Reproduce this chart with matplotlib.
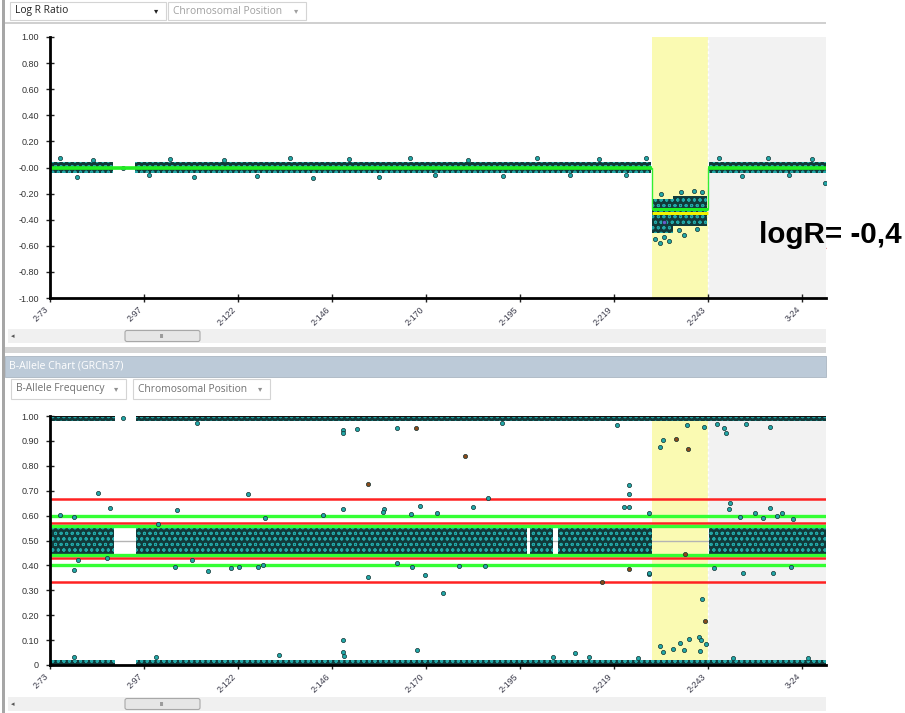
import numpy as np
import matplotlib.pyplot as plt
from matplotlib.patches import Rectangle, FancyBboxPatch

plt.rcParams['font.family'] = ['Liberation Sans', 'DejaVu Sans']
plt.rcParams['hatch.linewidth'] = 0.7

# x axis: chromosome 2 / 3 positions in Mb on one continuous axis
tick_pos = [73.0, 97.3, 121.6, 145.9, 170.2, 194.5, 218.8, 243.1, 267.4]
tick_labels = ['2-73', '2-97', '2-122', '2-146', '2-170', '2-195', '2-219', '2-243', '3-24']
x_min, x_max = 73.0, 273.6
del_start, del_end = 228.5, 243.1
chr3_start = 243.1

# ---- Log R ratio ----
lrr_ticks = [1.0, 0.8, 0.6, 0.4, 0.2, 0.0, -0.2, -0.4, -0.6, -0.8, -1.0]
lrr_ticklabels = ['1.00', '0.80', '0.60', '0.40', '0.20', '-0.00', '-0.20', '-0.40', '-0.60', '-0.80', '-1.00']
# dense clouds of points: start, end, low, high
lrr_cloud_start = [73.0, 95.0, 228.6, 234.0, 243.3]
lrr_cloud_end = [89.3, 228.3, 234.0, 242.9, 273.6]
lrr_cloud_low = [-0.045, -0.045, -0.50, -0.45, -0.045]
lrr_cloud_high = [0.045, 0.045, -0.24, -0.22, 0.045]
# single points outside the clouds
lrr_x = [75.5, 80.0, 84.2, 91.9, 98.5, 104.0, 110.3, 118.0, 126.5, 135.0, 141.0, 150.2,
         158.0, 166.0, 172.5, 181.0, 190.0, 199.0, 207.5, 215.0, 222.0, 227.0,
         229.5, 230.8, 231.6, 233.0, 235.5, 237.0, 239.5, 241.5, 231.0, 236.2, 240.2,
         246.0, 252.0, 258.5, 264.0, 270.0, 273.4]
lrr_y = [0.07, -0.07, 0.06, 0.0, -0.06, 0.065, -0.07, 0.06, -0.065, 0.07, -0.08, 0.065,
         -0.07, 0.07, -0.06, 0.06, -0.065, 0.07, -0.06, 0.065, -0.06, 0.07,
         -0.55, -0.58, -0.53, -0.56, -0.48, -0.52, -0.18, -0.19, -0.20, -0.19, -0.47,
         0.07, -0.065, 0.07, -0.06, 0.065, -0.12]
# segmentation lines
seg_x = [73.0, 228.5, 228.5, 243.1, 243.1, 273.6]
seg_y = [0.0, 0.0, -0.32, -0.32, 0.0, 0.0]
seg_mean_del = -0.35

# ---- B-allele frequency ----
baf_ticks = [1.0, 0.9, 0.8, 0.7, 0.6, 0.5, 0.4, 0.3, 0.2, 0.1, 0.0]
baf_ticklabels = ['1.00', '0.90', '0.80', '0.70', '0.60', '0.50', '0.40', '0.30', '0.20', '0.10', '0']
het_start = [73.0, 95.2, 197.1, 204.3, 243.4]
het_end = [89.5, 196.3, 203.0, 228.6, 273.6]
het_low = 0.438
het_high = 0.562
hom_start = [73.0, 95.2]
hom_end = [89.8, 273.6]
hom_width = 0.022
red_lines = [0.667, 0.57, 0.43, 0.333]
green_lines = [0.60, 0.56, 0.44, 0.40]

baf_x = [85.5, 88.5, 79.3, 105.8, 113.8, 105.3, 119.7, 121.9, 124.3, 110.9, 100.3, 91.9, 79.3,
         148.8, 148.8, 152.4, 162.6, 155.1, 169.9, 174.5, 148.8, 148.8, 149.0, 132.3, 167.8,
         148.8, 168.6, 159.3, 159.0, 128.6, 166.3, 173.0, 143.6, 126.8, 128.1, 166.7, 162.6,
         186.3, 182.4, 222.8, 222.8, 221.5, 222.8, 227.8, 178.7, 185.4, 189.8, 219.5, 208.7,
         212.4, 202.9, 230.7, 231.5, 237.7, 242.1, 245.3, 247.2, 247.7, 252.8, 259.1, 241.5,
         230.7, 235.9, 238.3, 240.8, 241.3, 242.6, 234.1, 237.0, 241.0, 231.5,
         248.8, 248.5, 255.2, 259.1, 262.1, 251.4, 257.4, 260.9, 265.0, 244.6, 252.2, 259.8,
         264.5, 227.9, 227.9, 249.6, 269.0, 225.1, 100.8, 109.6, 80.3, 87.7, 75.6, 79.2]
baf_y = [0.692, 0.629, 0.381, 0.622, 0.379, 0.392, 0.39, 0.392, 0.687, 0.97, 0.033, 0.99, 0.031,
         0.944, 0.93, 0.948, 0.95, 0.355, 0.361, 0.29, 0.10, 0.053, 0.037, 0.04, 0.06,
         0.625, 0.639, 0.625, 0.616, 0.589, 0.605, 0.612, 0.602, 0.392, 0.40, 0.392, 0.408,
         0.669, 0.633, 0.723, 0.687, 0.633, 0.633, 0.365, 0.399, 0.399, 0.97, 0.964, 0.047,
         0.033, 0.031, 0.877, 0.904, 0.964, 0.955, 0.967, 0.953, 0.933, 0.968, 0.955, 0.265,
         0.076, 0.09, 0.103, 0.111, 0.10, 0.084, 0.063, 0.06, 0.057, 0.053,
         0.652, 0.625, 0.612, 0.629, 0.609, 0.596, 0.589, 0.598, 0.585, 0.388, 0.371, 0.371,
         0.395, 0.368, 0.612, 0.03, 0.03, 0.03, 0.566, 0.42, 0.42, 0.428, 0.602, 0.596]
brown_x = [155.1, 167.6, 180.3, 215.6, 222.8, 234.8, 237.8, 237.1, 242.3]
brown_y = [0.727, 0.95, 0.839, 0.335, 0.384, 0.908, 0.867, 0.444, 0.178]

teal = '#22a8a8'
dark = '#0e2f2f'

fig = plt.figure(figsize=(9.05, 7.13), dpi=100)

# window chrome drawn in pixel space
ui = fig.add_axes([0, 0, 1, 1])
ui.set_xlim(0, 905)
ui.set_ylim(713, 0)
ui.axis('off')


def dropdown(x0, x1, y0, y1, label, col, arrow_col):
    ui.add_patch(Rectangle((x0, y0), x1 - x0, y1 - y0, facecolor='white',
                           edgecolor='#d4d4d4', lw=0.8))
    ui.text(x0 + 5, (y0 + y1) / 2, label, fontsize=7.4, color=col, va='center',
            family=['Open Sans', 'DejaVu Sans'])
    ui.text(x1 - 10, (y0 + y1) / 2, '▾', fontsize=6, color=arrow_col, va='center', ha='center',
            family='DejaVu Sans')


def scrollbar(y0):
    ui.add_patch(Rectangle((8, y0), 818, 14, facecolor='#f0f0f0', edgecolor='none'))
    ui.add_patch(FancyBboxPatch((125, y0 + 1.5), 75, 11, boxstyle='round,pad=0,rounding_size=2',
                                facecolor='#e6e6e6', edgecolor='#a8a8a8', lw=0.8))
    ui.text(162, y0 + 7.5, 'III', fontsize=4, color='#555555', ha='center', va='center')
    ui.text(13, y0 + 7, '◂', fontsize=5, color='#555555', ha='center', va='center',
            family='DejaVu Sans')


ui.add_patch(Rectangle((2, 0), 3, 713, facecolor='#a6a6a6', edgecolor='none'))
ui.add_patch(Rectangle((5, 22), 821, 2, facecolor='#d0d0d0', edgecolor='none'))
dropdown(10, 166, 2, 20, 'Log R Ratio', '#222222', '#222222')
dropdown(168, 306, 2, 20, 'Chromosomal Position', '#a0a0a0', '#a0a0a0')
scrollbar(329)
ui.add_patch(Rectangle((5, 347), 821, 6, facecolor='#d6d6d6', edgecolor='none'))
ui.add_patch(Rectangle((5, 356), 821, 21, facecolor='#bccad8', edgecolor='#aab6c2', lw=0.6))
ui.text(9, 366.5, 'B-Allele Chart (GRCh37)', fontsize=7.6, color='white', va='center',
        family=['Open Sans', 'DejaVu Sans'])
dropdown(11, 126, 379, 399, 'B-Allele Frequency', '#707070', '#909090')
dropdown(133, 270, 379, 399, 'Chromosomal Position', '#707070', '#909090')
scrollbar(697)

# red spell-check squiggle under "logR"
sq = np.linspace(759, 826, 60)
ui.plot(sq, 248 + 1.0 * np.sin((sq - 759) * 1.6), color='#e02020', lw=0.7)


def style_axis(ax):
    for s in ['top', 'right']:
        ax.spines[s].set_visible(False)
    for s in ['left', 'bottom']:
        ax.spines[s].set_linewidth(2)
        ax.spines[s].set_zorder(10)
    ax.set_xlim(x_min, x_max)
    ax.set_xticks(tick_pos)
    ax.set_xticklabels(tick_labels, rotation=45, ha='right', va='top', fontsize=6.3,
                       color='#3a3a4a')
    ax.tick_params(axis='both', direction='inout', length=6, width=1, color='#222222')
    ax.tick_params(axis='y', labelsize=6.5, labelcolor='#333333', pad=5)
    ax.tick_params(axis='x', pad=2)
    ax.axvspan(del_start, del_end, color='#fafab2', zorder=0, lw=0)
    ax.axvspan(chr3_start, x_max, color='#f2f2f2', zorder=0, lw=0)
    ax.axvline(chr3_start, color='white', lw=1, ls=(0, (2, 2)), zorder=0.5)
    ax.set_facecolor('none')


def cloud(ax, x0, x1, lo, hi):
    # dense run of overlapping points, drawn as a dotted band
    ax.fill_between([x0, x1], [lo, lo], [hi, hi], facecolor='#113a3a', edgecolor=teal,
                    hatch='ooo', lw=0, zorder=2)


# ---- top: Log R ratio ----
ax1 = fig.add_axes([50 / 905, 1 - 298 / 713, 776 / 905, 261 / 713])
ax1.set_zorder(1)
style_axis(ax1)
ax1.set_ylim(-1, 1)
ax1.set_yticks(lrr_ticks)
ax1.set_yticklabels(lrr_ticklabels)
for a, b, lo, hi in zip(lrr_cloud_start, lrr_cloud_end, lrr_cloud_low, lrr_cloud_high):
    cloud(ax1, a, b, lo, hi)
ax1.scatter(lrr_x, lrr_y, s=9, c=teal, edgecolors=dark, linewidths=0.5, zorder=3)
ax1.scatter([231.6], [-0.42], s=9, c='#6a5acd', edgecolors=dark, linewidths=0.5, zorder=3)
ax1.plot(seg_x, seg_y, color='#33ee33', lw=1, zorder=4)
ax1.hlines([0, 0], [x_min, del_end], [del_start, x_max], color='#22ee22', lw=2.6, zorder=4)
ax1.hlines([-0.32], [del_start], [del_end], color='#22ee22', lw=2.2, zorder=4)
ax1.hlines([seg_mean_del], [del_start], [del_end], color='#f2f200', lw=2.2, zorder=4)

fig.text(759 / 905, 1 - 243 / 713, 'logR= -0,4', fontsize=21.3, fontweight='bold',
         va='baseline', ha='left', color='black', zorder=20)

# ---- bottom: B-allele frequency ----
ax2 = fig.add_axes([50 / 905, 1 - 665 / 713, 776 / 905, 249 / 713])
ax2.set_zorder(1)
style_axis(ax2)
ax2.set_ylim(0, 1)
ax2.set_yticks(baf_ticks)
ax2.set_yticklabels(baf_ticklabels)
ax2.hlines(0.5, x_min, x_max, color='#b4b4b4', lw=1, zorder=1)
for a, b in zip(het_start, het_end):
    cloud(ax2, a, b, het_low, het_high)
for a, b in zip(hom_start, hom_end):
    cloud(ax2, a, b, 1 - hom_width, 1.0)
    cloud(ax2, a, b, 0.0, hom_width)
ax2.hlines([1.0] * len(hom_start), hom_start, hom_end, color='#111111', lw=1.5, zorder=3)
ax2.hlines(red_lines, x_min, x_max, color='#ff2222', lw=1.8, zorder=4)
ax2.hlines(green_lines, x_min, x_max, color='#33ff33', lw=2.4, zorder=4)
ax2.scatter(baf_x, baf_y, s=9, c=teal, edgecolors=dark, linewidths=0.5, zorder=5, clip_on=False)
ax2.scatter(brown_x, brown_y, s=9, c='#8b4a1a', edgecolors=dark, linewidths=0.5, zorder=5)

fig.savefig('out.png', dpi=100)
